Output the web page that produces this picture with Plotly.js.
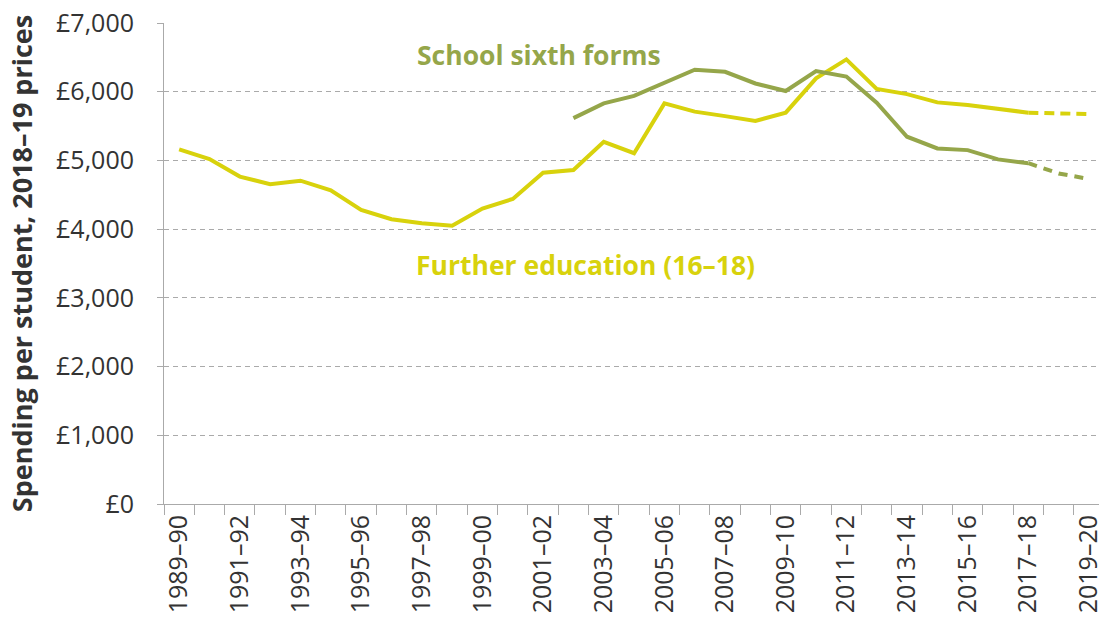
<!DOCTYPE html>
<html>
<head>
<meta charset="utf-8">
<script src="https://cdn.plot.ly/plotly-3.0.1.min.js"></script>
<style>html,body{margin:0;padding:0;background:#fff;}#chart{width:1099px;height:623px;}</style>
</head>
<body>
<div id="chart"></div>
<script>
// Financial years
const years = ["1989–90","1990–91","1991–92","1992–93","1993–94","1994–95","1995–96","1996–97","1997–98","1998–99","1999–00","2000–01","2001–02","2002–03","2003–04","2004–05","2005–06","2006–07","2007–08","2008–09","2009–10","2010–11","2011–12","2012–13","2013–14","2014–15","2015–16","2016–17","2017–18","2018–19","2019–20"];

// Tick labels (every other year shown)
const tickLabels = years.map((y, i) => (i % 2 === 0 ? y : ""));

// Further education (16–18), actual
const feActual = [5160,5020,4765,4655,4705,4565,4280,4145,4085,4050,4300,4440,4820,4860,5270,5105,5830,5710,5645,5575,5695,6195,6470,6040,5965,5845,5805,5745,5695,null,null];
// Further education (16–18), projected
const feProjected = [null,null,null,null,null,null,null,null,null,null,null,null,null,null,null,null,null,null,null,null,null,null,null,null,null,null,null,null,5695,5685,5675];

// School sixth forms, actual
const ssfActual = [null,null,null,null,null,null,null,null,null,null,null,null,null,5615,5830,5940,6130,6320,6290,6120,6010,6300,6220,5840,5345,5175,5150,5015,4960,null,null];
// School sixth forms, projected
const ssfProjected = [null,null,null,null,null,null,null,null,null,null,null,null,null,null,null,null,null,null,null,null,null,null,null,null,null,null,null,null,4960,4810,4730];

// Y axis ticks and labels
const yTicks = [0,1000,2000,3000,4000,5000,6000,7000];
const yLabels = ["£0","£1,000","£2,000","£3,000","£4,000","£5,000","£6,000","£7,000"];

const feColor = "#D8D20C";
const ssfColor = "#95A64A";
const font = "'Open Sans', 'Noto Sans', sans-serif";

const traces = [
  {x: years, y: feActual, type: "scatter", mode: "lines", line: {color: feColor, width: 4}, hoverinfo: "skip"},
  {x: years, y: feProjected, type: "scatter", mode: "lines", line: {color: feColor, width: 4, dash: "10px,6px"}, hoverinfo: "skip"},
  {x: years, y: ssfActual, type: "scatter", mode: "lines", line: {color: ssfColor, width: 4}, hoverinfo: "skip"},
  {x: years, y: ssfProjected, type: "scatter", mode: "lines", line: {color: ssfColor, width: 4, dash: "9px,7px"}, hoverinfo: "skip"}
];

const layout = {
  width: 1099, height: 623,
  margin: {l: 164, r: 0, t: 23, b: 119},
  paper_bgcolor: "#fff", plot_bgcolor: "#fff",
  showlegend: false,
  font: {family: font, color: "#333"},
  xaxis: {
    type: "category",
    categoryorder: "array", categoryarray: years,
    range: [-0.5, 30.33],
    tickmode: "array", tickvals: years, ticktext: tickLabels,
    tickson: "boundaries",
    ticks: "outside", ticklen: 10, tickcolor: "#aaa", tickwidth: 1,
    showline: true, linecolor: "#aaa", linewidth: 1,
    showgrid: false, zeroline: false,
    tickangle: -90,
    tickfont: {family: font, size: 25, color: "#333"}
  },
  yaxis: {
    range: [0, 7000],
    tickmode: "array", tickvals: yTicks, ticktext: yLabels,
    ticks: "outside", ticklen: 6, tickcolor: "#aaa", tickwidth: 1,
    ticklabelstandoff: 18,
    showline: true, linecolor: "#aaa", linewidth: 1,
    showgrid: true, gridcolor: "#aaa", gridwidth: 1, griddash: "5px,4px",
    zeroline: false,
    tickfont: {family: font, size: 25, color: "#333"},
    title: {text: "Spending per student, 2018–19 prices", font: {family: font, size: 27, color: "#333", weight: "bold"}, standoff: 15}
  },
  annotations: [
    {x: 11.86, y: 6540, xref: "x", yref: "y", text: "<b>School sixth forms</b>", showarrow: false,
     font: {family: font, size: 26.5, color: ssfColor}, xanchor: "center", yanchor: "middle"},
    {x: 13.4, y: 3480, xref: "x", yref: "y", text: "<b>Further education (16–18)</b>", showarrow: false,
     font: {family: font, size: 26.5, color: feColor}, xanchor: "center", yanchor: "middle"}
  ]
};

Plotly.newPlot("chart", traces, layout, {displayModeBar: false, staticPlot: true});
</script>
</body>
</html>
